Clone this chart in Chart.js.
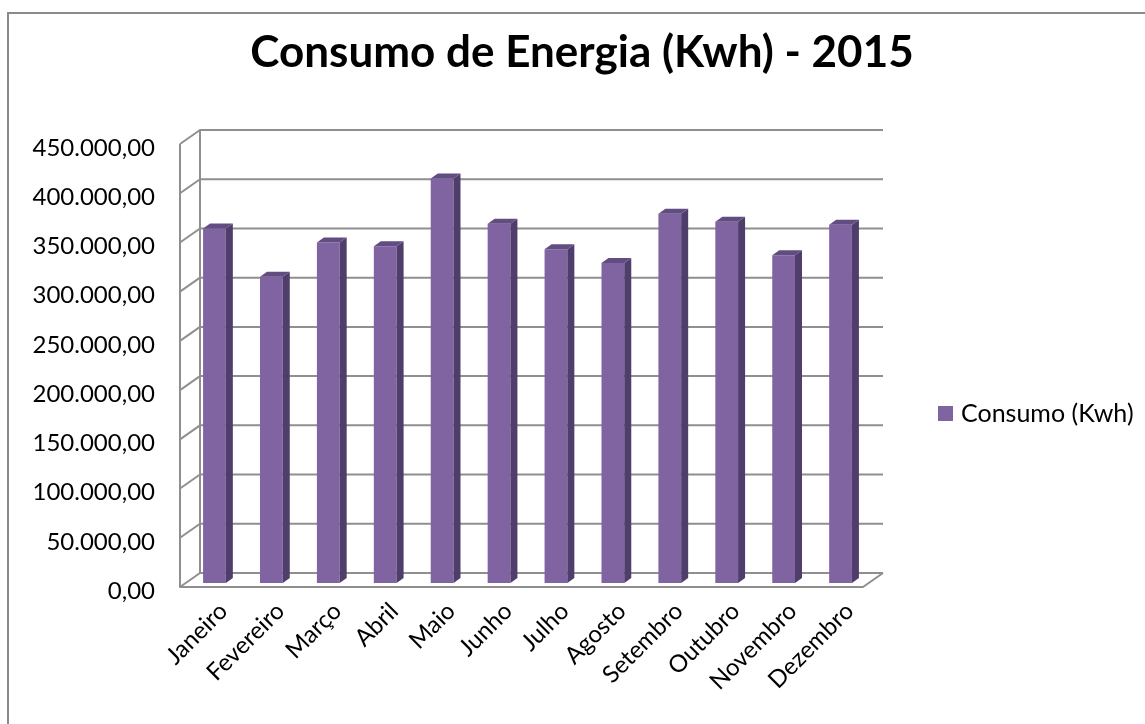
<!DOCTYPE html>
<html>
<head>
<meta charset="utf-8">
<script src="https://cdn.jsdelivr.net/npm/chart.js@4.4.1/dist/chart.umd.min.js"></script>
<style>
  html, body { margin: 0; padding: 0; background: #ffffff; }
  canvas { display: block; }
</style>
</head>
<body>
<canvas id="c" width="1145" height="724"></canvas>
<script>
// ---- data ----
const categories = ['Janeiro', 'Fevereiro', 'Março', 'Abril', 'Maio', 'Junho', 'Julho', 'Agosto', 'Setembro', 'Outubro', 'Novembro', 'Dezembro'];
const consumo = [360000, 311000, 346000, 342000, 411000, 365000, 339000, 325000, 375000, 367000, 333000, 364000];
const seriesLabel = 'Consumo (Kwh)';
const chartTitle = 'Consumo de Energia (Kwh) - 2015';
const yMin = 0;
const yMax = 450000;
const yStep = 50000;

// ---- style ----
const FONT = 'Lato, "Open Sans", sans-serif';
const FRONT = '#8064a2';
const SIDE = '#4f3d6b';
const TOP = '#624d83';
const GRID = '#8f8f8f';
const DX = 20, DY = 14;      // depth of the back wall
const BX = 6, BY = 4;        // position of bar front plane
const SX = 7, SY = 5;        // bar depth

function fmtBR(v) {
  const parts = Math.round(v).toString().replace(/\B(?=(\d{3})+(?!\d))/g, '.');
  return parts + ',00';
}

const frame3d = {
  id: 'frame3d',
  beforeDraw(chart) {
    const ctx = chart.ctx;
    ctx.save();
    ctx.strokeStyle = '#8a8a8a';
    ctx.lineWidth = 2;
    ctx.beginPath();
    ctx.moveTo(8, 724);
    ctx.lineTo(8, 13);
    ctx.lineTo(1145, 13);
    ctx.stroke();
    // title
    ctx.fillStyle = '#000000';
    ctx.font = 'bold 44px ' + FONT;
    ctx.textAlign = 'center';
    ctx.textBaseline = 'middle';
    ctx.fillText(chartTitle, 582, 53);
    ctx.restore();
  },
  beforeDatasetsDraw(chart) {
    const ctx = chart.ctx;
    const ys = chart.scales.y;
    const a = chart.chartArea;
    const L = a.left, R = a.right;
    ctx.save();
    ctx.strokeStyle = GRID;
    ctx.lineWidth = 2;
    ctx.lineJoin = 'round';
    ys.ticks.forEach(t => {
      const y = ys.getPixelForValue(t.value);
      ctx.beginPath();
      ctx.moveTo(L, y);
      ctx.lineTo(L + DX, y - DY);
      ctx.lineTo(R + DX, y - DY);
      ctx.stroke();
    });
    const y0 = ys.getPixelForValue(yMin);
    const y1 = ys.getPixelForValue(yMax);
    ctx.beginPath();
    ctx.moveTo(L + DX, y0 - DY);
    ctx.lineTo(L + DX, y1 - DY);
    ctx.stroke();
    ctx.beginPath();
    ctx.moveTo(L, y1);
    ctx.lineTo(L, y0);
    ctx.lineTo(R, y0);
    ctx.lineTo(R + DX, y0 - DY);
    ctx.stroke();
    ctx.restore();
    ctx.save();
    ctx.translate(BX, -BY);
  },
  afterDatasetsDraw(chart) {
    const ctx = chart.ctx;
    ctx.restore();
    const meta = chart.getDatasetMeta(0);
    ctx.save();
    meta.data.forEach(el => {
      const p = el.getProps(['x', 'y', 'base', 'width'], true);
      const l = p.x - p.width / 2 + BX;
      const r = p.x + p.width / 2 + BX;
      const t = p.y - BY;
      const b = p.base - BY;
      ctx.fillStyle = SIDE;
      ctx.beginPath();
      ctx.moveTo(r, t);
      ctx.lineTo(r + SX, t - SY);
      ctx.lineTo(r + SX, b - SY);
      ctx.lineTo(r, b);
      ctx.closePath();
      ctx.fill();
      ctx.fillStyle = TOP;
      ctx.beginPath();
      ctx.moveTo(l, t);
      ctx.lineTo(l + SX, t - SY);
      ctx.lineTo(r + SX, t - SY);
      ctx.lineTo(r, t);
      ctx.closePath();
      ctx.fill();
    });
    ctx.restore();
  },
  afterDraw(chart) {
    const ctx = chart.ctx;
    const ds = chart.data.datasets[0];
    ctx.save();
    ctx.fillStyle = ds.backgroundColor;
    ctx.fillRect(938, 406, 15, 15);
    ctx.fillStyle = '#000000';
    ctx.font = '25px ' + FONT;
    ctx.textBaseline = 'middle';
    ctx.textAlign = 'left';
    ctx.fillText(ds.label, 961, 414);
    ctx.restore();
  }
};

new Chart(document.getElementById('c'), {
  type: 'bar',
  data: {
    labels: categories,
    datasets: [{
      label: seriesLabel,
      data: consumo,
      backgroundColor: FRONT,
      borderWidth: 0,
      barPercentage: 0.4,
      categoryPercentage: 1.0,
      clip: false
    }]
  },
  options: {
    responsive: false,
    animation: false,
    layout: { padding: { left: 7, right: 282, top: 144, bottom: 0 } },
    plugins: {
      legend: { display: false },
      tooltip: { enabled: false },
      title: { display: false }
    },
    scales: {
      x: {
        grid: { display: false },
        border: { display: false },
        ticks: {
          color: '#000000',
          font: { family: FONT, size: 24 },
          minRotation: 45,
          maxRotation: 45,
          autoSkip: false,
          padding: 2,
          labelOffset: 15
        },
        afterFit(scale) { scale.height = 137; }
      },
      y: {
        min: yMin,
        max: yMax,
        grid: { display: false },
        border: { display: false },
        ticks: {
          stepSize: yStep,
          color: '#000000',
          font: { family: FONT, size: 24 },
          padding: 17,
          labelOffset: 4,
          callback: v => fmtBR(v)
        },
        afterFit(scale) { scale.width = 173; }
      }
    }
  },
  plugins: [frame3d]
});
</script>
</body>
</html>
